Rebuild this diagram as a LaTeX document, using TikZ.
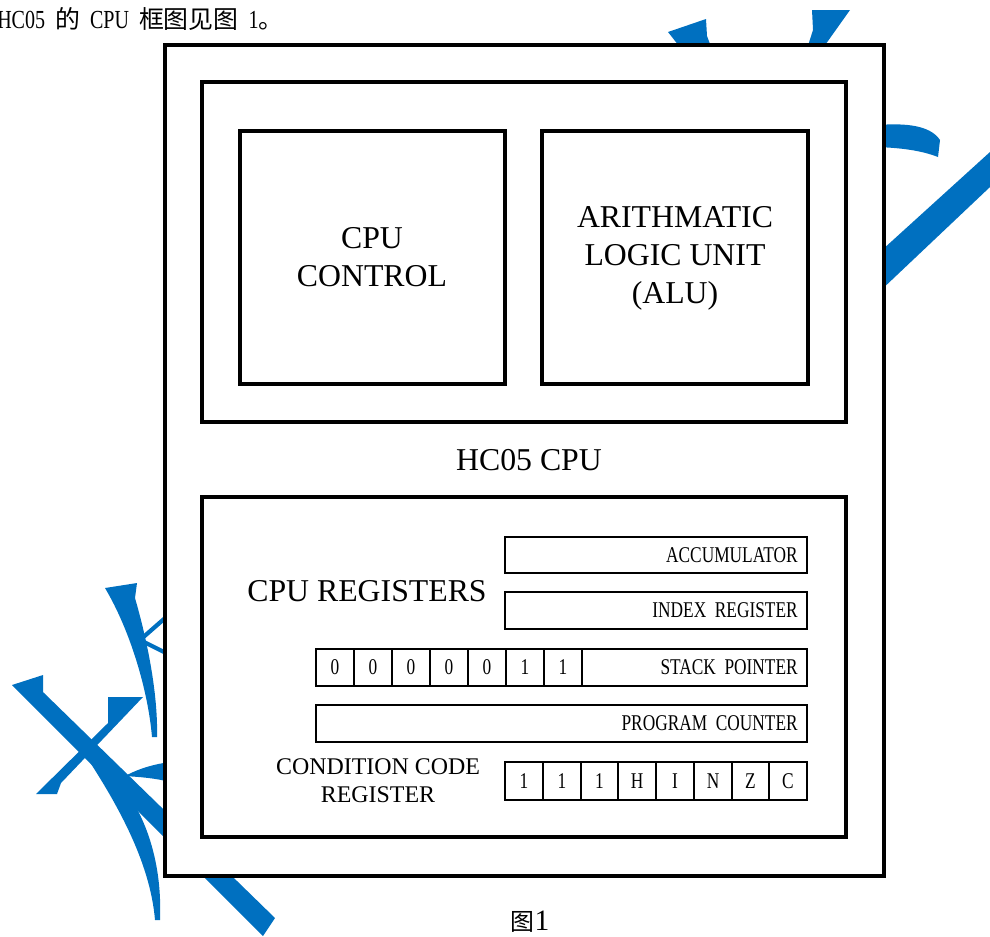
\documentclass[tikz,border=0pt]{standalone}
\usepackage{fontspec}
\setmainfont{Liberation Serif}
\newfontfamily\regfont{Liberation Serif}[FakeStretch=0.77,WordSpace=2]
\newfontfamily\cjkfont{Noto Sans CJK SC}
\definecolor{wmblue}{RGB}{0,112,192}

\tikzset{
  heavybox/.style={line width=3.5pt, fill=white},
  regbox/.style={line width=1.2pt, fill=white},
  biglabel/.style={font=\fontsize{22.6}{27}\selectfont, align=center},
  smalllabel/.style={font=\fontsize{17}{20}\selectfont, align=center},
  reglabel/.style={font=\regfont\fontsize{16}{19}\selectfont, inner sep=0pt},
  wm/.style={fill=wmblue, draw=none}
}

\begin{document}
\begin{tikzpicture}[x=0.025cm, y=-0.025cm]
        \useasboundingbox (0,0) rectangle (990,936);
        % Watermark strokes
        \fill[wm] (668,32) -- (706,19) -- (707,36) -- (716,60) -- (690,60) -- cycle;
        \fill[wm] (812,10) -- (850,10) -- (818,55) -- (805,55) -- (813,30) -- cycle;
        \fill[wm] (878,125) .. controls (905,123) and (930,125) .. (940,140) -- (938,157) .. controls (920,150) and (900,148) .. (878,147) -- cycle;
        \fill[wm] (860,270) -- (990,152) -- (990,187) -- (860,310) -- cycle;
        \fill[wm] (105,588) -- (137,583) -- (135,598) .. controls (150,650) and (158,700) .. (157,737) -- (152,737) .. controls (148,690) and (130,630) .. (105,588) -- cycle;
        \draw[wmblue, line width=3pt] (140,640) -- (172,612);
        \draw[wmblue, line width=3pt] (140,640) -- (172,656);
        \fill[wm] (12,685) -- (43,675) -- (43,692) -- (275,918) -- (263,936) -- cycle;
        \fill[wm] (36,794) -- (57,794) -- (61,783) -- (143,697) -- (108,697) -- (108,723) -- cycle;
        \fill[wm] (125,776) .. controls (140,768) and (155,764) .. (170,762) -- (170,782) .. controls (155,778) and (140,777) .. (125,776) -- cycle;
        \fill[wm] (82,750) .. controls (115,800) and (150,860) .. (155,920) -- (160,920) .. controls (162,870) and (150,830) .. (132,800) -- (105,755) -- cycle;
        % Caption line and figure number
        \node[anchor=base west, inner sep=0pt] (intro) at (-3,28) {{\regfont\fontsize{18.5}{20}\selectfont HC05 }{\cjkfont\fontsize{17.7}{20}\selectfont 的}{\regfont\fontsize{18.5}{20}\selectfont\ CPU }{\cjkfont\fontsize{17.7}{20}\selectfont 框图见图}{\regfont\fontsize{18.5}{20}\selectfont\ 1}{\cjkfont\fontsize{17.7}{20}\selectfont 。}};
        \node[anchor=base, inner sep=0pt] (fig) at (530,930) {\fontsize{17}{20}\selectfont{\cjkfont 图}{\fontsize{21}{24}\selectfont 1}};
        % Outer frame
        \draw[heavybox] (165,45) rectangle (884,876);
        \draw[heavybox] (202,82) rectangle (846,422);
        \draw[heavybox] (240,131) rectangle (505,384);
        \draw[heavybox] (542,131) rectangle (808,384);
        \draw[heavybox] (202,497) rectangle (846,837);
        \node[biglabel] (ctrl) at (372,257) {CPU\\CONTROL};
        \node[biglabel] (alu) at (675,258) {ARITHMATIC\\LOGIC UNIT\\(ALU)};
        \node[biglabel] (cpu) at (529,460) {HC05 CPU};
        \node[biglabel] (regs) at (367,591) {CPU REGISTERS};
        \node[smalllabel] (ccrname) at (378,781) {CONDITION CODE\\REGISTER};
        % Accumulator and Index Register
        \draw[regbox] (505,537) rectangle (807,573);
        \draw[regbox] (505,592) rectangle (807,629);
        \node[reglabel, anchor=east] (acc) at (798,555) {ACCUMULATOR};
        \node[reglabel, anchor=east] (ix) at (798,610.5) {INDEX REGISTER};
        % Stack Pointer
        \draw[regbox] (316,649) rectangle node[reglabel] (sp6) {0} (354,686);
        \draw[regbox] (354,649) rectangle node[reglabel] (sp5) {0} (392,686);
        \draw[regbox] (392,649) rectangle node[reglabel] (sp4) {0} (430,686);
        \draw[regbox] (430,649) rectangle node[reglabel] (sp3) {0} (468,686);
        \draw[regbox] (468,649) rectangle node[reglabel] (sp2) {0} (506,686);
        \draw[regbox] (506,649) rectangle node[reglabel] (sp1) {1} (544,686);
        \draw[regbox] (544,649) rectangle node[reglabel] (sp0) {1} (582,686);
        \draw[regbox] (582,649) rectangle (807,686);
        \node[reglabel, anchor=east] (sp) at (798,667.5) {STACK POINTER};
        % Program Counter
        \draw[regbox] (316,705) rectangle (807,742);
        \node[reglabel, anchor=east] (pc) at (798,723.5) {PROGRAM COUNTER};
        % Condition Code Register
        \draw[regbox] (505,762) rectangle node[reglabel] (cc7) {1} (543,800);
        \draw[regbox] (543,762) rectangle node[reglabel] (cc6) {1} (581,800);
        \draw[regbox] (581,762) rectangle node[reglabel] (cc5) {1} (618,800);
        \draw[regbox] (618,762) rectangle node[reglabel] (ccH) {H} (656,800);
        \draw[regbox] (656,762) rectangle node[reglabel] (ccI) {I} (694,800);
        \draw[regbox] (694,762) rectangle node[reglabel] (ccN) {N} (732,800);
        \draw[regbox] (732,762) rectangle node[reglabel] (ccZ) {Z} (769,800);
        \draw[regbox] (769,762) rectangle node[reglabel] (ccC) {C} (807,800);
\end{tikzpicture}
\end{document}
